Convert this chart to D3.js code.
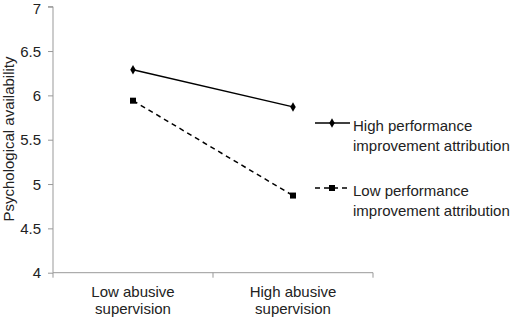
<!DOCTYPE html>
<html><head><meta charset="utf-8">
<script src="https://cdn.jsdelivr.net/npm/d3@7"></script>
<style>body{margin:0;background:#fff}svg{display:block}text{font-family:"Liberation Sans",Arial,sans-serif;fill:#222}</style>
</head><body><svg id="c" width="510" height="318"></svg>
<script>
(function(){
const categories = [["Low abusive","supervision"],["High abusive","supervision"]];
const highAttribution = [6.29, 5.87];
const lowAttribution = [5.94, 4.87];
const yTicks = [4, 4.5, 5, 5.5, 6, 6.5, 7];
const seriesNames = [["High performance","improvement attribution"],["Low performance","improvement attribution"]];

const svg = d3.select("#c");
const mLeft = 53, mRight = 373, mTop = 6.7, mBottom = 272.7;
const x = d3.scaleBand().domain([0,1]).range([mLeft,mRight]);
const y = d3.scaleLinear().domain([4,7]).range([mBottom,mTop]);

// y axis
const ya = svg.append("g").attr("transform",`translate(${mLeft},0)`)
  .call(d3.axisLeft(y).tickValues(yTicks).tickFormat(d=>String(d)).tickSize(5).tickPadding(7));
ya.select(".domain").attr("stroke","#999").attr("d",`M-5,${mTop}H0V${mBottom}`);
ya.selectAll(".tick line").attr("stroke","#999");
ya.selectAll(".tick text").style("font-size","15px").attr("fill","#222").style("font-family","Liberation Sans, Arial, sans-serif").attr("dy","0.35em");
ya.selectAll(".tick").filter(d=>d===7).select("text").attr("dy","0.45em");

// x axis
const xa = svg.append("g").attr("transform",`translate(0,${mBottom})`);
xa.append("line").attr("x1",mLeft).attr("x2",mRight).attr("stroke","#999");
[mLeft, mLeft+x.bandwidth(), mRight].forEach(v=>xa.append("line").attr("x1",v).attr("x2",v).attr("y1",0).attr("y2",5).attr("stroke","#999"));
categories.forEach((c,i)=>{
  const t = xa.append("text").attr("text-anchor","middle").style("font-size","15px")
    .attr("x", x(i)+x.bandwidth()/2).attr("y",24.5);
  c.forEach((l,j)=>t.append("tspan").attr("x",x(i)+x.bandwidth()/2).attr("dy", j?16.5:0).text(l));
});

// y title
svg.append("text").attr("transform","translate(14,139) rotate(-90)").attr("text-anchor","middle")
  .style("font-size","15px").text("Psychological availability");

const cx = i => x(i)+x.bandwidth()/2;
const line = d3.line().x((d,i)=>cx(i)).y(d=>y(d));
svg.append("path").attr("d",line(highAttribution)).attr("fill","none").attr("stroke","#000").attr("stroke-width",1.5);
svg.append("path").attr("d",line(lowAttribution)).attr("fill","none").attr("stroke","#000").attr("stroke-width",1.5).attr("stroke-dasharray","5,4");
const diamond = d3.symbol().type(d3.symbolDiamond).size(26);
highAttribution.forEach((v,i)=>svg.append("path").attr("d",diamond()).attr("transform",`translate(${cx(i)},${y(v)})`).attr("fill","#000"));
lowAttribution.forEach((v,i)=>svg.append("rect").attr("x",cx(i)-3).attr("y",y(v)-3).attr("width",6).attr("height",6).attr("fill","#000"));

// legend
const lg = [{y:123, dash:null, mk:"d"},{y:188, dash:"5,4", mk:"s"}];
lg.forEach((L,i)=>{
  svg.append("line").attr("x1",315).attr("x2",350).attr("y1",L.y).attr("y2",L.y).attr("stroke","#000").attr("stroke-width",1.5).attr("stroke-dasharray",L.dash);
  if(L.mk==="d") svg.append("path").attr("d",diamond()).attr("transform",`translate(332,${L.y})`).attr("fill","#000");
  else svg.append("rect").attr("x",329).attr("y",L.y-3).attr("width",6).attr("height",6).attr("fill","#000");
  const t = svg.append("text").style("font-size","15px").attr("y",L.y+7.5);
  seriesNames[i].forEach((l,j)=>t.append("tspan").attr("x",353).attr("dy",j?20:0).text(l));
});
})();
</script></body></html>
